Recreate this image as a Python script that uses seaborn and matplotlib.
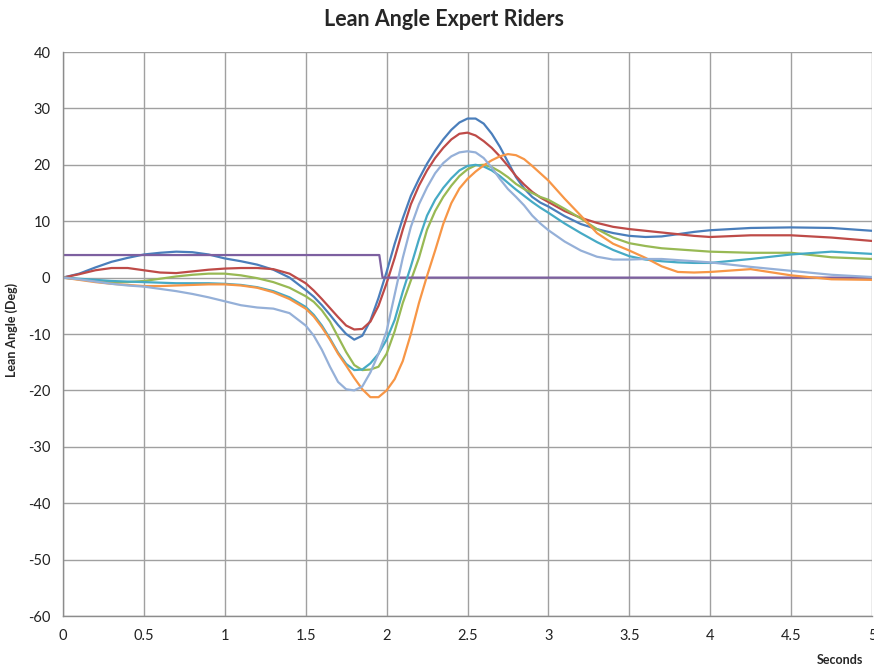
import pandas as pd
import matplotlib
matplotlib.use("Agg")
import matplotlib.pyplot as plt
import seaborn as sns
from matplotlib.ticker import MultipleLocator, FormatStrFormatter

# time grid (s) shared by the six rider traces
t = [0, 0.1, 0.2, 0.3, 0.4, 0.5, 0.6, 0.7, 0.8, 0.9, 1.0, 1.1, 1.2, 1.3, 1.4, 1.5,
     1.55, 1.6, 1.65, 1.7, 1.75, 1.8, 1.85, 1.9, 1.95, 2.0, 2.05, 2.1, 2.15, 2.2,
     2.25, 2.3, 2.35, 2.4, 2.45, 2.5, 2.55, 2.6, 2.65, 2.7, 2.75, 2.8, 2.85, 2.9,
     2.95, 3.0, 3.1, 3.2, 3.3, 3.4, 3.5, 3.6, 3.7, 3.8, 3.9, 4.0, 4.25, 4.5, 4.75, 5.0]

rider_blue = [0, 0.7, 1.8, 2.8, 3.5, 4.1, 4.4, 4.6, 4.5, 4.1, 3.4, 2.9, 2.3, 1.4, 0.0, -2.2,
              -3.4, -4.9, -6.6, -8.4, -10.0, -11.0, -10.3, -7.6, -3.6, 1.0, 6.0, 10.5, 14.5, 17.5,
              20.2, 22.5, 24.5, 26.2, 27.5, 28.2, 28.2, 27.3, 25.5, 23.2, 20.5, 17.8, 15.8, 14.3,
              13.3, 12.6, 10.9, 9.5, 8.6, 7.9, 7.4, 7.2, 7.3, 7.7, 8.1, 8.4, 8.8, 8.9, 8.8, 8.3]

rider_red = [0, 0.6, 1.3, 1.7, 1.7, 1.3, 0.9, 0.8, 1.1, 1.4, 1.6, 1.7, 1.7, 1.5, 0.7, -1.0,
             -2.3, -3.8, -5.4, -7.0, -8.5, -9.2, -9.1, -7.8, -5.0, -1.0, 3.5, 8.5, 13.0, 16.3,
             19.0, 21.2, 23.0, 24.5, 25.5, 25.7, 25.2, 24.2, 23.0, 21.5, 19.8, 18.0, 16.5, 15.2,
             14.2, 13.4, 11.8, 10.6, 9.7, 9.0, 8.6, 8.3, 8.0, 7.7, 7.4, 7.2, 7.5, 7.5, 7.1, 6.5]

rider_green = [0, -0.3, -0.6, -0.8, -0.8, -0.6, -0.2, 0.2, 0.5, 0.7, 0.7, 0.4, -0.1, -0.8, -1.8, -3.3,
               -4.3, -5.8, -7.8, -10.5, -13.2, -15.5, -16.4, -16.3, -15.8, -13.5, -9.5, -4.5, -0.5, 3.5,
               8.5, 11.8, 14.3, 16.3, 18.0, 19.2, 19.9, 20.0, 19.6, 18.8, 17.8, 16.6, 15.7, 15.0,
               14.3, 13.8, 12.2, 10.5, 8.6, 7.1, 6.1, 5.6, 5.2, 5.0, 4.8, 4.6, 4.4, 4.4, 3.6, 3.3]

rider_teal = [0, -0.2, -0.4, -0.6, -0.7, -0.8, -0.9, -1.0, -1.0, -1.0, -1.1, -1.3, -1.7, -2.4, -3.5, -5.2,
              -6.6, -8.5, -10.8, -13.3, -15.3, -16.4, -16.3, -15.2, -13.5, -11.0, -7.5, -2.5, 2.0, 6.8,
              11.0, 13.8, 15.9, 17.6, 19.0, 19.8, 20.0, 19.7, 19.0, 18.0, 16.8, 15.6, 14.5, 13.4,
              12.4, 11.5, 9.6, 7.9, 6.3, 4.9, 3.8, 3.2, 2.9, 2.7, 2.6, 2.6, 3.3, 4.1, 4.6, 4.2]

rider_orange = [0, -0.4, -0.8, -1.1, -1.3, -1.5, -1.5, -1.4, -1.3, -1.2, -1.2, -1.4, -1.8, -2.6, -3.8, -5.5,
                -6.9, -8.8, -11.0, -13.5, -15.6, -17.8, -19.8, -21.2, -21.2, -20.0, -18.0, -14.8, -10.0, -4.5,
                0.3, 4.8, 9.5, 13.2, 15.8, 17.5, 18.8, 19.9, 20.8, 21.5, 21.9, 21.7, 21.0, 19.8,
                18.5, 17.2, 14.0, 11.0, 7.9, 6.0, 4.8, 3.5, 2.0, 1.0, 0.9, 1.0, 1.5, 0.4, -0.3, -0.4]

rider_lightblue = [0, -0.3, -0.7, -1.1, -1.4, -1.6, -2.0, -2.4, -2.9, -3.5, -4.2, -4.9, -5.3, -5.5, -6.3, -8.5,
                   -10.3, -12.8, -15.8, -18.5, -19.8, -20.0, -19.3, -16.8, -13.5, -9.5, -3.0, 3.5, 9.0, 13.0,
                   16.0, 18.5, 20.3, 21.5, 22.2, 22.4, 22.2, 21.2, 19.5, 17.5, 15.7, 14.3, 12.8, 11.0,
                   9.6, 8.4, 6.4, 4.8, 3.7, 3.2, 3.2, 3.3, 3.3, 3.1, 2.9, 2.7, 1.9, 1.2, 0.5, 0.1]

# steer input step
step_t = [0, 1.955, 1.975, 5.0]
step_v = [4.0, 4.0, 0.0, 0.0]

series_order = ['blue', 'red', 'green', 'step', 'teal', 'orange', 'lightblue']
colors = {'blue': '#4A7EBB', 'red': '#BE4B48', 'green': '#98B954', 'step': '#7D60A0',
          'teal': '#46AAC5', 'orange': '#F79646', 'lightblue': '#95B0D8'}

frames = []
for name, vals in [('blue', rider_blue), ('red', rider_red), ('green', rider_green),
                   ('teal', rider_teal), ('orange', rider_orange), ('lightblue', rider_lightblue)]:
    frames.append(pd.DataFrame({'Seconds': t, 'Lean': vals, 'rider': name}))
frames.append(pd.DataFrame({'Seconds': step_t, 'Lean': step_v, 'rider': 'step'}))
df = pd.concat(frames, ignore_index=True)

sns.set_style('white')
plt.rcParams['font.family'] = ['Lato', 'DejaVu Sans']
plt.rcParams['axes.unicode_minus'] = False

fig = plt.figure(figsize=(8.74, 6.71), dpi=100)
ax = fig.add_axes([63 / 874, 1 - 616 / 671, 809 / 874, 564 / 671])

sns.lineplot(data=df, x='Seconds', y='Lean', hue='rider', hue_order=series_order,
             palette=colors, estimator=None, sort=True, legend=False,
             linewidth=1.6, ax=ax)

ax.set_xlim(0, 5)
ax.set_ylim(-60, 40)
ax.xaxis.set_major_locator(MultipleLocator(0.5))
ax.xaxis.set_minor_locator(MultipleLocator(0.1))
ax.yaxis.set_major_locator(MultipleLocator(10))
ax.yaxis.set_minor_locator(MultipleLocator(2))
ax.xaxis.set_major_formatter(FormatStrFormatter('%g'))
ax.grid(True, which='major', color='#a0a0a0', linewidth=1.0)
ax.set_axisbelow(True)

for side in ['top', 'right']:
    ax.spines[side].set_visible(False)
for side in ['left', 'bottom']:
    ax.spines[side].set_color('#8c8c8c')
    ax.spines[side].set_linewidth(1.0)

ax.tick_params(axis='both', which='major', direction='out', length=5, width=1,
               color='#8c8c8c', labelsize=10.5, labelcolor='#222222', pad=4)
ax.tick_params(axis='both', which='minor', direction='out', length=3, width=1,
               color='#8c8c8c')

ax.set_xlabel('Seconds', fontsize=9, fontweight='bold', va='center')
ax.xaxis.set_label_coords((840 - 63) / 809, (616 - 660) / 564)
ax.set_ylabel('Lean Angle (Deg)', fontsize=9, fontweight='bold')
ax.yaxis.set_label_coords((18 - 63) / 809, (616 - 330) / 564)

fig.text(444 / 874, 1 - 20 / 671, 'Lean Angle Expert Riders', ha='center', va='center',
         fontsize=15.5, fontweight='bold')

fig.savefig('out.png', dpi=100, facecolor='white')
